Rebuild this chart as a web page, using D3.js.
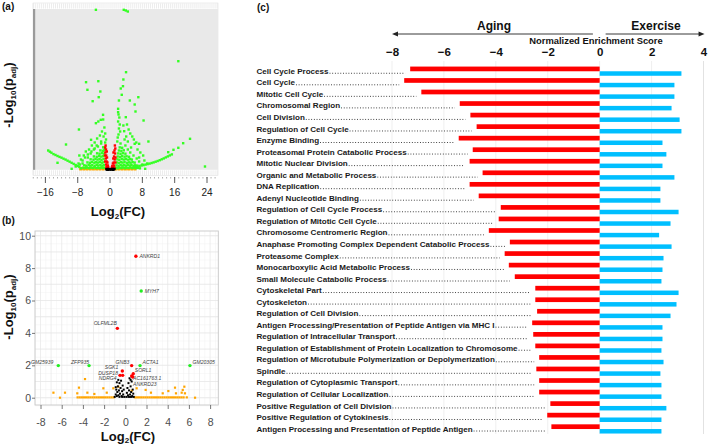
<!DOCTYPE html>
<html><head><meta charset="utf-8">
<script src="https://cdn.jsdelivr.net/npm/d3@7/dist/d3.min.js"></script>
<style>
body{margin:0;background:#fff}
svg{display:block}
text{font-family:"Liberation Sans",Arial,Helvetica,sans-serif}
</style>
</head><body>
<svg id="fig" width="709" height="444"></svg>
<script>
// ---------------- DATA ----------------
// Panel (c): GSEA terms and NES values
const gseaTerms = [
 "Cell Cycle Process","Cell Cycle","Mitotic Cell Cycle","Chromosomal Region","Cell Division",
 "Regulation of Cell Cycle","Enzyme Binding","Proteasomal Protein Catabolic Process","Mitotic Nuclear Division",
 "Organic and Metabolic Process","DNA Replication","Adenyl Nucleotide Binding","Regulation of Cell Cycle Process",
 "Regulation of Mitotic Cell Cycle","Chromosome Centromeric Region","Anaphase Promoting Complex Dependent Catabolic Process",
 "Proteasome Complex","Monocarboxylic Acid Metabolic Process","Small Molecule Catabolic Process","Cytoskeletal Part",
 "Cytoskeleton","Regulation of Cell Division","Antigen Processing/Presentation of Peptide Antigen via MHC I",
 "Regulation of Intracellular Transport","Regulation of Establishment of Protein Localization to Chromosome",
 "Regulation of Microtubule Polymerization or Depolymerization","Spindle","Regulation of Cytoplasmic Transport",
 "Regulation of Cellular Localization","Positive Regulation of Cell Division","Positive Regulation of Cytokinesis",
 "Antigen Processing and Presentation of Peptide Antigen"];
const agingNES = [-7.30,-7.53,-6.87,-5.39,-4.98,-4.74,-5.43,-4.89,-5.01,-4.51,-5.01,-4.66,-3.81,-3.89,-4.27,-3.46,
 -3.66,-3.50,-3.27,-2.48,-2.48,-2.41,-2.60,-2.56,-2.48,-2.33,-2.44,-2.33,-2.33,-1.90,-2.02,-1.86];
const exerciseNES = [3.15,2.88,2.88,2.77,3.08,3.15,2.42,2.57,2.42,2.88,2.34,2.34,3.04,2.73,2.29,2.77,
 2.46,2.42,2.38,3.04,2.96,2.73,2.42,2.42,2.38,2.46,2.34,2.38,2.38,2.57,2.38,2.38];
const nesTicks = [-8,-6,-4,-2,0,2,4];

// Panel (a): volcano plot (log2FC, -log10 padj on an arbitrary scale)
const aTicks = [-16,-8,0,8,16,24];
const aGreen = [
 [-3.5,159.7],[3.4,159.7],[3.9,159],[4.4,158],[16.9,108.3],
 [-5.94,87.3],[-2.9,88.3],[-5.6,79.7],[-2.4,78],[-2.8,72.3],[-4.3,68.3],[3.96,97.3],[3.3,90],[2.65,81],[3.2,83.3],
 [2.9,74.7],[7.0,72.3],[2.2,69],[4.9,69],[6.1,65],[6.3,58],[2.0,60.7],[2.0,57.3],[-1.73,54.7],[8.3,49],[3.9,52.3],
 [-2.3,49.7],[-2.9,48],[-3.5,46.3],[3.3,44],[3.5,38.3],[-7.7,40],[-4.7,29.7],[5.9,30],[9.5,28],[6.1,25.7],[7.2,25.7],
 [19.8,30.7],[18.1,26.3],[16.9,21.7],[15.7,19.7],[14.4,17.3],[23.5,3],[-10.9,25],[-13,6.7],[-9.5,0.7],[8.7,0.7],[-7.6,14],
 [2.1,55],[2.3,52],[2.0,48],[2.4,45],[2.2,41],[2.5,38],[2.1,35],[1.9,32],
 [-1.7,50],[-1.4,42],[-1.2,36],[-1.6,33],[-1.0,30],[-2.0,38],[-2.5,34],[-3.2,31],[-3.8,27],[-4.5,24],[-2.2,28],
 [4.2,45],[4.6,40],[5.0,36],[4.0,33],[5.5,33],[3.6,30],[4.4,28],[6.5,27],[5.2,22],[6.8,20],[7.5,17],[8.2,14],[7.2,12],[8.5,9],[9.2,6],
 [-5.2,20],[-6,18],[-6.5,14],[-7.2,10],[-5.5,12],[-4.8,16],[-4,20],[-3.3,24],[-6.8,6],[-7.5,5],
 [-7.8,6],[-8.5,3],[-6.8,9],[-6.2,12],[-5.5,15],[-4.6,18],[-3.8,21],[-3.0,23],[-2.2,26],[4.4,20],[5.0,17],[5.8,14],
 [6.6,11],[7.2,8],[8.0,5],[3.8,24],[2.6,26],[1.8,28],[-1.2,27],
 [-7.2,1.2],[-6.6,1.8],[-6.1,1.4],[-5.7,2.0],[-5.2,1.3],[-4.8,1.9],[-4.3,1.5],[-3.9,2.1],[-3.4,1.4],[-3.0,1.8],[-2.6,1.3],
 [-2.2,2.0],[-1.8,1.5],[-1.4,1.7],[1.5,1.6],[1.9,1.2],[2.3,1.9],[2.8,1.4],[3.2,2.0],[3.7,1.3],[4.1,1.8],[4.6,1.5],[5.0,2.1],
 [5.5,1.4],[5.9,1.9],[6.4,1.3],[6.9,1.7],[7.4,1.2],
 [-6.4,4.2],[-5.9,3.8],[-5.3,4.5],[-4.9,3.9],[-4.4,4.3],[-3.8,3.7],[-3.3,4.6],[-2.9,4.0],[-2.4,4.4],[-1.9,3.8],[-1.5,4.3],
 [1.6,4.1],[2.1,3.7],[2.6,4.5],[3.0,3.9],[3.5,4.4],[3.9,3.8],[4.4,4.6],[4.9,4.0],[5.3,4.3],[5.8,3.7],[6.2,4.2],[6.7,3.9],
 [-5.6,7.1],[-5.0,6.7],[-4.5,7.4],[-3.9,6.8],[-3.5,7.3],[-3.0,6.9],[-2.5,7.5],[-2.0,6.8],[-1.6,7.2],[1.7,7.0],[2.2,6.6],
 [2.7,7.4],[3.1,6.9],[3.6,7.3],[4.2,6.7],[4.7,7.2],[5.1,6.8],[5.6,7.3],[6.1,6.9],
 [-4.8,10.2],[-4.1,9.8],[-3.6,10.5],[-3.1,9.9],[-2.6,10.3],[-2.1,9.7],[-1.6,10.4],[1.8,10.1],[2.3,9.7],[2.9,10.5],[3.4,9.9],
 [3.9,10.3],[4.5,9.8],[5.0,10.4],[5.4,9.9],
 [-4.0,13.1],[-3.3,12.7],[-2.7,13.4],[-2.2,12.9],[-1.7,13.3],[1.9,13.0],[2.5,12.6],[3.0,13.4],[3.6,12.8],[4.1,13.2],[4.7,12.7],
 [-3.2,16.2],[-2.6,15.8],[-2.0,16.4],[-1.5,15.9],[2.0,16.1],[2.6,15.7],[3.2,16.3],[3.8,15.8],
 [-2.4,19.1],[-1.8,18.7],[-1.4,19.3],[2.2,19.0],[2.8,18.6],[3.4,19.2],
 [-1.7,22.2],[-1.3,21.8],[2.4,22.1],[3.0,21.7],
 [-15.3,19],[-14.9,17.8],[-14.5,16.8],[-14.0,15.4],[-13.5,14.5],[-13.0,13.5],[-12.5,12.6],[-12.0,11.8],[-11.5,10.8],
 [-11.0,9.9],[-10.5,8.8],[-10.0,7.8],[-9.5,6.7],[-9.0,5.6],[-8.5,4.5],[-8.0,3.5],[-7.6,2.6],
 [6.3,2.8],[6.8,3.2],[7.3,3.6],[7.8,4.0],[8.3,4.4],[8.8,4.9],[9.3,5.4],[9.8,5.9],[10.3,6.5],[10.8,7.1],[11.3,7.8],[11.8,8.5],
 [12.3,9.3],[12.8,10.2],[13.3,11.1],[13.8,12.1],[14.3,13.1],[14.8,14.1],[15.3,15.1]];
const aRed = [
 [-1.2,22],[-1.1,24],[-1.0,20],[-1.15,17],[-0.95,14],[-1.05,11],[-0.85,8],[-0.95,5],[-0.75,3],[-0.6,1.5],[-0.8,18],
 [-0.75,12],[-0.65,7],[-0.55,4],[-0.9,2],[-0.45,2.5],[-1.2,8],[-1.25,14],
 [1.3,21],[1.2,24],[1.1,19],[1.25,16],[1.0,13],[1.15,10],[0.9,7],[1.0,4],[0.8,2.5],[0.6,1.5],[0.85,17],[0.8,11],
 [0.7,6],[0.55,3.5],[1.05,1.8],[0.45,2],[1.3,7],[1.35,12]];
const aOrange = [
 [-7.3,0.4],[-6.9,1.2],[-6.5,0.4],[-6.1,1.2],[-5.7,0.4],[-5.3,1.2],[-4.9,0.4],[-4.5,1.2],[-4.1,0.4],[-3.7,1.2],[-3.3,0.4],
 [-2.9,1.2],[-2.5,0.4],[-2.1,1.2],[-1.7,0.4],[-1.3,1.2],[1.4,0.4],[1.8,1.2],[2.2,0.4],[2.6,1.2],[3.0,0.4],[3.4,1.2],
 [3.8,0.4],[4.2,1.2],[4.6,0.4],[5.0,1.2],[5.4,0.4],[5.8,1.2],[6.2,0.4]];
const aBlack = [[-0.9,0.3],[-0.6,0.6],[-0.3,0.2],[0,0.5],[0.3,0.3],[0.6,0.7],[0.9,0.2],[1.1,0.5],[-0.45,-0.3],[0.15,-0.2],[0.75,-0.3],[-0.75,-0.2]];

// Panel (b): labelled genes
const bGenes  = ["ANKRD1","MYH7","OLFML2B","GM25939","ZFP935","GNB3","ACTA1","GM20305","SGK1","DUSP18","NDRG4","SORL1","AC161763.1","ANKRD23"];
const bFC     = [1.0, 1.5, -0.75, -6.32, -3.42, 0.6, 1.39, 6.1, -0.28, -0.5, -0.25, 0.75, 0.6, 0.7];
const bPadj   = [8.73, 6.59, 4.28, 1.98, 1.98, 1.98, 1.98, 1.98, 1.65, 1.38, 1.38, 1.48, 1.34, 1.28];
const bGroup  = ["red","green","red","green","green","red","green","green","red","red","red","red","red","red"];
const bXTicks = [-8,-6,-4,-2,0,2,4,6,8];
const bYTicks = [0,2,4,6,8,10];
const bOrange = [
 [-6.78,0.31],[-6.16,0],[-5.69,0.31],[-4.37,0.62],[-3.8,1.15],[-4.53,0.27],[-3.58,0.31],[-2.92,0.23],[-2.07,0.58],[-1.75,0.31],
 [-1.13,0.58],[-0.66,0.68],[0.6,0.43],[1.07,0.58],[1.92,0.48],[2.42,0.31],[3.53,0.27],[4.06,0.41],[4.69,0.62],[5.32,0.31],
 [5.42,0.48],[5.57,0.68],[5.63,0.27],[6.58,0],[4.78,0.27],
 [-4.5,0.02],[-4.3,0.02],[-4.1,0.02],[-3.9,0.02],[-3.7,0.02],[-3.5,0.02],[-3.3,0.02],[-3.1,0.02],[-2.9,0.02],[-2.7,0.02],
 [-2.5,0.02],[-2.3,0.02],[-2.1,0.02],[-1.9,0.02],[-1.7,0.02],[-1.5,0.02],[-1.3,0.02],[-1.1,0.02],[0.9,0.02],[1.1,0.02],
 [1.3,0.02],[1.5,0.02],[1.7,0.02],[1.9,0.02],[2.1,0.02],[2.3,0.02],[2.5,0.02],[2.7,0.02],[2.9,0.02],[3.1,0.02],[3.3,0.02],
 [3.5,0.02],[3.7,0.02],[3.9,0.02],[4.1,0.02],[4.3,0.02],[4.5,0.02],[4.7,0.02],[4.9,0.02],[5.1,0.02],[5.3,0.02],[5.5,0.02],[5.8,0.02]];
const bBlack = [
 [-1.0,0.05],[-0.9,0.2],[-0.85,0.5],[-0.8,0.1],[-0.75,0.35],[-0.7,0.7],[-0.65,0.15],[-0.6,0.45],[-0.55,0.9],[-0.5,0.25],
 [-0.45,0.6],[-0.4,1.05],[-0.35,0.1],[-0.3,0.4],[-0.25,0.75],[-0.2,0.2],[-0.15,0.5],[-0.1,0.05],[-0.55,0.05],[-0.3,0.05],
 [-0.8,0.95],[-0.66,1.1],[-0.9,0.65],
 [0.1,0.05],[0.15,0.3],[0.2,0.6],[0.25,0.15],[0.3,0.9],[0.35,0.45],[0.4,1.2],[0.45,0.2],[0.5,0.7],[0.55,0.35],[0.6,1.0],
 [0.65,0.1],[0.7,0.5],[0.75,0.25],[0.8,0.05],[0.45,0.05],[0.3,0.05],[0.6,0.05],[0.5,1.1]];

// ---------------- STYLE ----------------
const C = {red:"#ff0000", blue:"#00bfff", green:"#22ee22", orange:"#ffa500", black:"#000"};
const svg = d3.select("#fig");
const FONT = "'Liberation Sans',Arial,sans-serif";

function panelLabel(x,y,t){
  svg.append("text").attr("x",x).attr("y",y).attr("font-size",10).attr("font-weight","bold").attr("fill","#111").text(t);
}
panelLabel(2,10,"(a)");
panelLabel(2,224,"(b)");
panelLabel(257,11,"(c)");

function logTitle(g, transform, kind){
  const t = g.append("text").attr("transform",transform).attr("text-anchor","middle")
    .attr("font-size",13).attr("font-weight","bold").attr("fill","#111");
  if (kind==="x"){
    t.append("tspan").text("Log");
    t.append("tspan").attr("font-size",8).attr("dy",2.5).text("2");
    t.append("tspan").attr("dy",-2.5).text("(FC)");
  } else {
    t.append("tspan").text("-Log");
    t.append("tspan").attr("font-size",8).attr("dy",3).text("10");
    t.append("tspan").attr("dy",-3).text("(p");
    t.append("tspan").attr("font-size",8).attr("dy",3).text("adj");
    t.append("tspan").attr("dy",-3).text(")");
  }
}

// ================= PANEL A =================
(function(){
  const g = svg.append("g");
  const x = d3.scaleLinear().domain([-16,24]).range([45.4,207]);
  const y = d3.scaleLinear().domain([0,160]).range([169.5,9.5]);
  const L=33, R=218, T=3, B=175.5;
  g.append("rect").attr("x",L).attr("y",T).attr("width",R-L).attr("height",B-T).attr("fill","#fff").attr("stroke","#e0e0e0").attr("stroke-width",0.6);
  const stripTicks = d3.range(-19,27,0.5);
  [[T,9],[169.8,B]].forEach(([y0,y1])=>{
    g.selectAll(null).data(stripTicks).join("line")
     .attr("x1",d=>x(d)).attr("x2",d=>x(d)).attr("y1",y0+0.5).attr("y2",y1-0.5)
     .attr("stroke","#d8d8d8").attr("stroke-width",0.5);
  });
  g.append("rect").attr("x",L).attr("y",9).attr("width",R-L).attr("height",169.8-9).attr("fill","#e9e9e9");
  g.append("rect").attr("x",L).attr("y",9).attr("width",2.2).attr("height",169.8-9).attr("fill","#9a9a9a");
  const pts = (arr,col,r)=> g.append("g").selectAll("rect").data(arr).join("rect")
     .attr("x",d=>x(d[0])-r).attr("y",d=>y(d[1])-r).attr("width",2*r).attr("height",2*r).attr("fill",col);
  pts(aOrange,C.orange,1.4);
  pts(aGreen,"#33ff22",1.2);
  pts(aRed,C.red,1.2);
  pts(aBlack,C.black,1.2);
  const ax = g.append("g").attr("transform","translate(0,177)");
  ax.selectAll(null).data(d3.range(-19,27,1)).join("line")
    .attr("x1",d=>x(d)).attr("x2",d=>x(d)).attr("y1",0).attr("y2",1.5).attr("stroke","#777").attr("stroke-width",0.6);
  ax.selectAll(null).data(aTicks).join("line")
    .attr("x1",d=>x(d)).attr("x2",d=>x(d)).attr("y1",0).attr("y2",6).attr("stroke","#333").attr("stroke-width",0.8);
  ax.selectAll(null).data(aTicks).join("text")
    .attr("x",d=>x(d)).attr("y",18.5).attr("text-anchor","middle").attr("font-size",10).attr("fill","#222")
    .text(d=>d<0?"\u2212"+Math.abs(d):d);
  logTitle(g,"translate(118,216)","x");
  logTitle(g,"translate(13,95) rotate(-90)","y");
})();

// ================= PANEL B =================
(function(){
  const g = svg.append("g");
  const x = d3.scaleLinear().domain([-8,8]).range([40.5,210.1]);
  const y = d3.scaleLinear().domain([0,10]).range([397.7,235.7]);
  const L=35, R=218.3, T=231, B=405;
  g.append("rect").attr("x",L).attr("y",T).attr("width",R-L).attr("height",B-T).attr("fill","#fff");
  const minorX = d3.range(-8.5,9,1), minorY = d3.range(-0.5,10.5,0.5);
  g.selectAll(null).data(minorX).join("line").attr("x1",d=>x(d)).attr("x2",d=>x(d)).attr("y1",T).attr("y2",B).attr("stroke","#f1f1f1").attr("stroke-width",0.5);
  g.selectAll(null).data(minorY).join("line").attr("y1",d=>y(d)).attr("y2",d=>y(d)).attr("x1",L).attr("x2",R).attr("stroke","#f1f1f1").attr("stroke-width",0.5);
  g.selectAll(null).data(d3.range(-8,9,1)).join("line").attr("x1",d=>x(d)).attr("x2",d=>x(d)).attr("y1",T).attr("y2",B).attr("stroke","#e6e6e6").attr("stroke-width",0.7);
  g.selectAll(null).data(d3.range(0,11,1)).join("line").attr("y1",d=>y(d)).attr("y2",d=>y(d)).attr("x1",L).attr("x2",R).attr("stroke","#e6e6e6").attr("stroke-width",0.7);
  g.append("rect").attr("x",L).attr("y",T).attr("width",R-L).attr("height",B-T).attr("fill","none").attr("stroke","#c8c8c8").attr("stroke-width",0.9);
  const xa = g.append("g").attr("transform",`translate(0,${B})`)
    .call(d3.axisBottom(x).tickValues(bXTicks).tickSize(4).tickFormat(d=>d));
  const ya = g.append("g").attr("transform",`translate(${L},0)`)
    .call(d3.axisLeft(y).tickValues(bYTicks).tickSize(3).tickFormat(d=>d));
  [xa,ya].forEach(a=>{
    a.select(".domain").remove();
    a.selectAll(".tick line").attr("stroke","#555").attr("stroke-width",0.8);
    a.selectAll(".tick text").attr("font-size",10.5).attr("fill","#4d4d4d").attr("font-family",FONT);
  });
  xa.selectAll(".tick text").attr("dy",0).attr("y",20.5);
  ya.selectAll(".tick text").attr("x",-4);
  const sq = (arr,col,r)=> g.append("g").selectAll("rect").data(arr).join("rect")
    .attr("x",d=>x(d[0])-r).attr("y",d=>y(d[1])-r).attr("width",2*r).attr("height",2*r).attr("fill",col);
  sq(bOrange,C.orange,1.1);
  sq(bBlack,C.black,1.0);
  const genes = bGenes.map((n,i)=>({n,fc:bFC[i],p:bPadj[i],grp:bGroup[i]}));
  g.append("g").selectAll("circle").data(genes).join("circle")
    .attr("cx",d=>x(d.fc)).attr("cy",d=>y(d.p)).attr("r",1.7)
    .attr("fill",d=>d.grp==="red"?C.red:C.green);
  // label placement (style offsets, px)
  const lab = {
    "ANKRD1":[3.5,1.8,"start"], "MYH7":[3.5,1.8,"start"], "OLFML2B":[-0.5,-3,"end"], "GM25939":[-5,-1.5,"end"],
    "ZFP935":[0,-1.8,"end"], "GNB3":[-2.2,-1.8,"end"], "ACTA1":[2.5,-1.5,"start"], "GM20305":[2.5,-1.5,"start"],
    "SGK1":[-4,-2.2,"end"], "DUSP18":[-2,-0.8,"end"], "NDRG4":[-6,4.4,"end"],
    "SORL1":[1.5,-1.5,"start"], "AC161763.1":[1.4,3.8,"start"], "ANKRD23":[0.4,9.2,"start"]};
  g.append("g").selectAll("text").data(genes).join("text")
    .attr("x",d=>x(d.fc)+lab[d.n][0]).attr("y",d=>y(d.p)+lab[d.n][1])
    .attr("text-anchor",d=>lab[d.n][2]).attr("font-size",5.1).attr("font-style","italic").attr("fill","#444")
    .text(d=>d.n);
  logTitle(g,"translate(128,440.5)","x");
  logTitle(g,"translate(13,307) rotate(-90)","y");
})();

// ================= PANEL C =================
(function(){
  const g = svg.append("g");
  const x = d3.scaleLinear().domain([-8,4]).range([392,703.5]);
  const y = d3.scaleBand().domain(gseaTerms).range([65.5,434.8]);
  const rows = gseaTerms.map((t,i)=>({t,a:agingNES[i],e:exerciseNES[i]}));
  g.selectAll(null).data(nesTicks).join("line")
    .attr("x1",d=>x(d)).attr("x2",d=>x(d)).attr("y1",61).attr("y2",434)
    .attr("stroke",d=>d===4?"#e2e2e2":"#efefef").attr("stroke-width",1);
  const ax = g.append("g").attr("transform","translate(0,56)")
    .call(d3.axisTop(x).tickValues(nesTicks).tickSize(0).tickFormat(d=>d<0?"\u2212"+Math.abs(d):d));
  ax.select(".domain").remove();
  ax.selectAll(".tick text").attr("y",0).attr("dy",0).attr("font-size",11.5).attr("font-weight","bold").attr("fill","#111").attr("font-family",FONT);
  const ay = 34;
  g.append("line").attr("x1",x(-8)+3).attr("x2",x(-0.26)).attr("y1",ay).attr("y2",ay).attr("stroke","#222").attr("stroke-width",0.9);
  g.append("path").attr("d",`M${x(-8)},${ay} l6,-2.6 v5.2 z`).attr("fill","#222");
  g.append("line").attr("x1",x(0.23)).attr("x2",x(4.04)-3).attr("y1",ay).attr("y2",ay).attr("stroke","#222").attr("stroke-width",0.9);
  g.append("path").attr("d",`M${x(4.04)},${ay} l-6,-2.6 v5.2 z`).attr("fill","#222");
  g.append("text").attr("x",494).attr("y",30).attr("text-anchor","middle").attr("font-size",12).attr("font-weight","bold").attr("fill","#111").text("Aging");
  g.append("text").attr("x",656).attr("y",30).attr("text-anchor","middle").attr("font-size",12).attr("font-weight","bold").attr("fill","#111").text("Exercise");
  g.append("text").attr("x",596).attr("y",44.2).attr("text-anchor","middle").attr("font-size",9.4).attr("font-weight","bold").attr("fill","#111").text("Normalized Enrichment Score");
  const bh = 4.7;
  g.append("g").selectAll("rect").data(rows).join("rect")
    .attr("x",d=>x(d.a)).attr("width",d=>x(0)-x(d.a))
    .attr("y",d=>y(d.t)+y.bandwidth()/2-bh).attr("height",bh).attr("fill",C.red);
  g.append("g").selectAll("rect").data(rows).join("rect")
    .attr("x",x(0)).attr("width",d=>x(d.e)-x(0))
    .attr("y",d=>y(d.t)+y.bandwidth()/2).attr("height",bh-0.2).attr("fill",C.blue);
  const lx = 256.5;
  rows.forEach(d=>{
    const cy = y(d.t)+y.bandwidth()/2;
    const t = g.append("text").attr("x",lx).attr("y",cy+2.6).attr("font-size",8.05).attr("font-weight","bold").attr("fill","#1a1a1a").text(d.t);
    const w = t.node().getComputedTextLength();
    const x0 = lx+w+1, x1 = x(d.a)-5;
    if (x1>x0) g.append("line").attr("x1",x0).attr("x2",x1).attr("y1",cy+2).attr("y2",cy+2)
      .attr("stroke","#333").attr("stroke-width",1).attr("stroke-dasharray","0.9 1.8");
  });
})();
</script>
</body></html>
